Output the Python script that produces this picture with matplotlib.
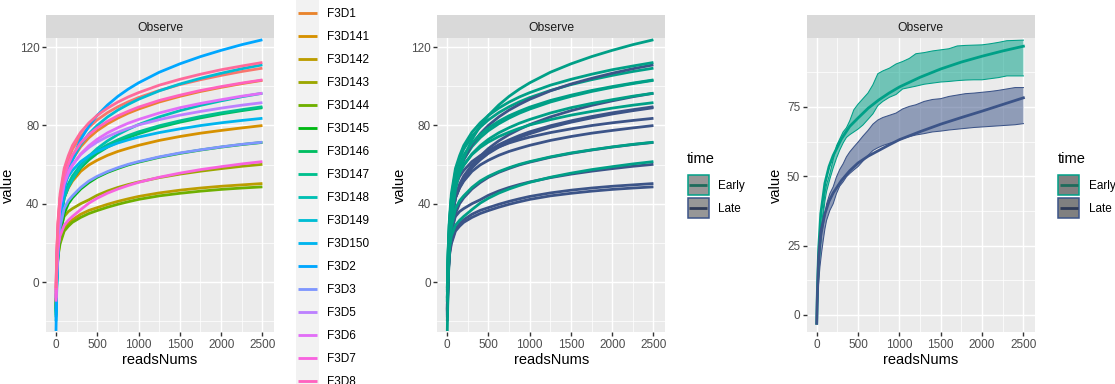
import numpy as np
import matplotlib.pyplot as plt
from matplotlib.patches import Rectangle

plt.rcParams['font.family'] = ['Liberation Sans', 'DejaVu Sans']

# ---- values -----------------------------------------------------------
reads_nums = [1, 10, 25, 50, 100, 150, 200, 300, 400, 500, 625, 750, 875,
              1000, 1250, 1500, 1750, 2000, 2250, 2500]

samples = ["F3D0", "F3D1", "F3D141", "F3D142", "F3D143", "F3D144", "F3D145",
           "F3D146", "F3D147", "F3D148", "F3D149", "F3D150", "F3D2", "F3D3",
           "F3D5", "F3D6", "F3D7", "F3D8", "F3D9"]
sample_time = ["Early", "Early"] + ["Late"] * 10 + ["Early"] * 7

f3d0 = [-5, 13, 29, 43, 56.3, 62.8, 67.8, 74.4, 79.1, 82.8, 86.5, 89.5, 92,
        94.2, 97.8, 100.8, 103.3, 105.5, 107.5, 109.2]
f3d1 = [-10, 8, 24, 39, 51.5, 58, 62.6, 69.1, 73.7, 77.3, 80.8, 83.7, 86.2,
        88.3, 91.9, 94.8, 97.3, 99.4, 101.3, 103]
f3d141 = [-14, 4, 18, 32, 43, 48, 51.5, 56.5, 59.8, 62.2, 64.7, 66.7, 68.3,
          69.8, 72.3, 74.3, 76, 77.4, 78.7, 79.9]
f3d142 = [-13, 4, 14, 20.5, 27, 29.8, 31.8, 34.6, 36.6, 38, 39.7, 41.2, 42.5,
          43.7, 45.5, 46.9, 48, 48.9, 49.6, 50.3]
f3d143 = [-12, 6, 18, 27, 33.5, 36, 37.5, 40, 42, 44.3, 46.5, 48.3, 49.8,
          51.1, 53.3, 55.1, 56.6, 57.9, 59.1, 60.1]
f3d144 = [-14, 3, 13, 19.5, 26, 28.5, 30.5, 33, 35, 36.5, 38.2, 39.7, 41,
          42.2, 44, 45.3, 46.4, 47.3, 48, 48.6]
f3d145 = [-15, 3, 14, 24, 35, 40, 43, 47.5, 50.8, 53.5, 56, 58, 59.8, 61.2,
          63.7, 65.7, 67.4, 68.9, 70.2, 71.3]
f3d146 = [-17, 1, 15, 31, 43, 48.5, 52.4, 58.3, 62.4, 65.7, 68.9, 71.5, 73.8,
          75.7, 79, 81.6, 83.8, 85.8, 87.5, 89]
f3d147 = [-16, 2, 16, 32, 44, 50, 54.1, 59.8, 63.8, 67, 70.1, 72.6, 74.8,
          76.7, 79.8, 82.3, 84.5, 86.4, 88, 89.5]
f3d148 = [-18, 0, 15, 31, 43, 48.5, 52.2, 59.3, 64.3, 68.2, 72.1, 75.3, 78,
          80.4, 84.3, 87.5, 90.2, 92.5, 94.6, 96.4]
f3d149 = [-20, -2, 14, 33, 49, 56.5, 62.4, 70.2, 75.7, 80, 84.3, 87.8, 90.7,
          93.3, 97.6, 101.1, 104, 106.6, 108.9, 110.9]
f3d150 = [-15, 3, 18, 38, 49.5, 54, 57, 61.5, 64.5, 66.7, 69, 71, 72.6, 74,
          76.3, 78.2, 79.9, 81.3, 82.5, 83.6]
f3d2 = [-25, -3, 15, 31, 47, 56, 63.1, 72.8, 79.7, 85.1, 90.4, 94.8, 98.5,
        101.7, 107.1, 111.4, 115.1, 118.3, 121.2, 123.7]
f3d3 = [-8, 4, 17, 28, 37.5, 41.5, 44, 48.3, 51.6, 54, 56.4, 58.4, 60.1, 61.5,
        63.9, 65.9, 67.5, 69, 70.3, 71.4]
f3d5 = [-9, 9, 25, 39, 51, 56.5, 60, 65.1, 68.7, 71.5, 74.3, 76.5, 78.5, 80.2,
        82.9, 85.2, 87.1, 88.8, 90.3, 91.6]
f3d6 = [-8, 10, 26, 38.5, 50, 55.5, 59.5, 65.4, 69.6, 72.9, 76.2, 78.8, 81.1,
        83, 86.3, 89, 91.2, 93.1, 94.9, 96.4]
f3d7 = [-10, 5, 17, 23.5, 29, 31.5, 33.5, 37, 40.3, 42.8, 45.4, 47.5, 49.3,
        50.9, 53.5, 55.6, 57.4, 58.9, 60.3, 61.5]
f3d8 = [-4, 14, 29.5, 42.5, 54, 60, 64.8, 71, 75.3, 78.7, 82.1, 84.9, 87.2,
        89.3, 92.7, 95.4, 97.8, 99.8, 101.6, 103.2]
f3d9 = [-3, 15, 31, 45, 58, 64.5, 69.7, 76.5, 81.3, 85.1, 88.8, 91.9, 94.5,
        96.7, 100.5, 103.5, 106.1, 108.4, 110.3, 112.1]

observe = [f3d0, f3d1, f3d141, f3d142, f3d143, f3d144, f3d145, f3d146,
           f3d147, f3d148, f3d149, f3d150, f3d2, f3d3, f3d5, f3d6, f3d7,
           f3d8, f3d9]

# group means (smoothed) and their ribbons
early_mean = [-3, 10, 24, 36.5, 47.5, 53.5, 57.5, 63.5, 68, 71, 74.6, 77.5,
              80, 82.2, 85.7, 88.7, 91.2, 93.3, 95.2, 96.9]
late_mean = [-3, 8, 21, 30, 36.5, 41, 44, 48.5, 52, 54.8, 57.3, 59.3, 61.3,
             63.2, 66.1, 68.8, 71.2, 73.5, 75.9, 78.3]

ribbon_x = [1, 20, 40, 60, 80, 100, 120, 160, 200, 240, 280, 320, 360, 400,
            450, 500, 560, 620, 680, 740, 800, 880, 960, 1040, 1120, 1200,
            1300, 1400, 1500, 1600, 1700, 1800, 1900, 2000, 2100, 2200, 2300,
            2400, 2500]
early_upper = [-3, 15.7, 26, 32.5, 38, 44, 47, 51, 56, 61, 63.5, 66, 67.5, 70,
               74, 76, 78, 80, 83, 87, 88, 89, 90.5, 91.4, 92.5, 94.2, 94.6,
               95.2, 95.6, 96, 97, 97.2, 97.3, 97.4, 97.8, 98.3, 98.9, 99, 99.1]
early_lower = [-3, 12, 22, 30, 36, 41, 44.5, 49, 53, 56.5, 59.5, 62, 64, 65,
               66, 67, 68.5, 70.5, 72.5, 75.5, 77, 78.5, 79.5, 81.5, 82, 82.5,
               83.2, 83.6, 84, 84.2, 84.5, 84.7, 84.8, 84.8, 85.2, 85.6, 86.2,
               86.2, 86.2]
late_upper = [-3, 16, 24, 28.5, 32, 36, 40, 43.8, 46.2, 49.8, 52.5, 54.5, 57,
              58.8, 60.6, 62.3, 64.5, 66.5, 68.8, 70.3, 71.2, 72, 72.8, 74.3,
              75.2, 75.8, 77, 77.7, 78, 78.8, 79.3, 79.8, 80, 80.3, 80.6, 81,
              81.5, 82, 82]
late_lower = [-3, 10, 17.3, 22.5, 26.9, 31, 34.1, 37.7, 40.1, 43.8, 46.5, 48,
              49.8, 51, 52.3, 53.5, 55.5, 57.5, 59.3, 60.3, 61.1, 61.9, 62.6,
              63.6, 64.3, 64.9, 65.4, 66, 66.3, 66.7, 67, 67.3, 67.6, 67.8, 68,
              68.2, 68.4, 68.6, 69]

time_levels = ["Early", "Late"]
time_colors = {"Early": "#00A087", "Late": "#3C5488"}


def hcl_hex(h, c=100.0, l=65.0):
    """ggplot2 style hue colour (polar CIE-Luv) as hex."""
    u_ = c * np.cos(np.radians(h))
    v_ = c * np.sin(np.radians(h))
    xn, yn, zn = 0.95047, 1.0, 1.08883
    den = xn + 15 * yn + 3 * zn
    un, vn = 4 * xn / den, 9 * yn / den
    y = yn * ((l + 16) / 116) ** 3
    u = u_ / (13 * l) + un
    v = v_ / (13 * l) + vn
    x = 9 * y * u / (4 * v)
    z = 3 * y / v - x / 3 - 5 * y
    rgb = np.array([3.2404542 * x - 1.5371385 * y - 0.4985314 * z,
                    -0.9692660 * x + 1.8760108 * y + 0.0415560 * z,
                    0.0556434 * x - 0.2040259 * y + 1.0572252 * z])
    rgb = np.where(rgb <= 0.0031308, 12.92 * rgb,
                   1.055 * np.clip(rgb, 0, None) ** (1 / 2.4) - 0.055)
    rgb = np.clip(rgb, 0, 1)
    return "#%02X%02X%02X" % tuple(int(round(ch * 255)) for ch in rgb)


sample_colors = [hcl_hex(h) for h in np.linspace(15, 375, len(samples) + 1)[:-1]]

# ---- layout (pixels) ---------------------------------------------------
W, H = 1115, 384
fig = plt.figure(figsize=(W / 100, H / 100), dpi=100)


def px_axes(x0, y0, x1, y1):
    return fig.add_axes([x0 / W, 1 - y1 / H, (x1 - x0) / W, (y1 - y0) / H])


def style_panel(ax, ylim, yticks, yminor):
    ax.set_facecolor("#EBEBEB")
    ax.set_xlim(-120, 2640)
    ax.set_ylim(*ylim)
    ax.set_xticks([0, 500, 1000, 1500, 2000, 2500])
    ax.set_xticks([250, 750, 1250, 1750, 2250], minor=True)
    ax.set_yticks(yticks)
    ax.set_yticks(yminor, minor=True)
    ax.grid(True, which="major", color="white", linewidth=1.02)
    ax.grid(True, which="minor", color="white", linewidth=0.51)
    ax.set_axisbelow(True)
    for s in ax.spines.values():
        s.set_visible(False)
    ax.tick_params(which="major", length=2.64, width=1.0, color="#333333",
                   labelsize=8.45, labelcolor="#4D4D4D", pad=2.1)
    ax.tick_params(which="minor", length=0)


def add_strip(x0, x1):
    s = px_axes(x0, 15, x1, 38)
    s.set_facecolor("#D9D9D9")
    s.set_xticks([])
    s.set_yticks([])
    for sp in s.spines.values():
        sp.set_visible(False)
    s.text(0.5, 0.31, "Observe", transform=s.transAxes, ha="center",
           va="baseline", fontsize=8.7, color="#1A1A1A")


panels = [(46, 274), (437.3, 665), (806.7, 1035)]

# panel 1: every sample coloured on its own
ax1 = px_axes(panels[0][0], 38, panels[0][1], 332)
style_panel(ax1, (-25.5, 124.6), [0, 40, 80, 120], [-20, 20, 60, 100])
for vals, col in zip(observe, sample_colors):
    ax1.plot(reads_nums, vals, color=col, lw=2.0, solid_capstyle="butt")

# panel 2: same curves coloured by time
ax2 = px_axes(panels[1][0], 38, panels[1][1], 332)
style_panel(ax2, (-25.5, 124.6), [0, 40, 80, 120], [-20, 20, 60, 100])
for vals, t in zip(observe, sample_time):
    ax2.plot(reads_nums, vals, color=time_colors[t], lw=2.0,
             solid_capstyle="butt")

# panel 3: group mean with ribbon
ax3 = px_axes(panels[2][0], 38, panels[2][1], 332)
style_panel(ax3, (-6.13, 99.87), [0, 25, 50, 75], [12.5, 37.5, 62.5, 87.5])
ribbons = {"Early": (early_lower, early_upper), "Late": (late_lower, late_upper)}
for t in time_levels:
    lo, up = ribbons[t]
    ax3.fill_between(ribbon_x, lo, up, facecolor=time_colors[t], alpha=0.52,
                     linewidth=0)
    ax3.plot(ribbon_x, lo, color=time_colors[t], lw=0.75)
    ax3.plot(ribbon_x, up, color=time_colors[t], lw=0.75)
for t, vals in zip(time_levels, [early_mean, late_mean]):
    ax3.plot(reads_nums, vals, color=time_colors[t], lw=2.0)

for x0, x1 in panels:
    add_strip(x0, x1)

# ---- titles and legends in pixel space ---------------------------------
ov = fig.add_axes([0, 0, 1, 1])
ov.set_xlim(0, W)
ov.set_ylim(H, 0)
ov.axis("off")

for (x0, x1), ylab_x in zip(panels, [8.2, 399.5, 775.8]):
    ov.text((x0 + x1) / 2, 364.5, "readsNums", ha="center", va="baseline",
            fontsize=10.5, color="black")
    ov.text(ylab_x, 185, "value", rotation=90, ha="center", va="center",
            fontsize=10.5, color="black")

# legend of samples: taller than the figure, so its ends run off the edges
row_h = 23
leg_top = 13 - 1.5 * row_h
ov.add_patch(Rectangle((296, leg_top), 23, row_h * len(samples),
                       facecolor="#F2F2F2", edgecolor="none"))
for i, (name, col) in enumerate(zip(samples, sample_colors)):
    yc = leg_top + (i + 0.5) * row_h
    if yc < 0 or yc > H:
        continue  # these rows fall outside the picture
    ov.plot([298.3, 316.7], [yc, yc], color=col, lw=2.05, solid_capstyle="butt")
    ov.text(326.7, yc + 4.3, name, ha="left", va="baseline", fontsize=8.45,
            color="black")


def time_legend(x_left, key_fill):
    ov.text(x_left, 163.3, "time", ha="left", va="baseline", fontsize=10.5,
            color="black")
    line_cols = {"Early": "#1E6B5B", "Late": "#2F3A57"}
    for i, t in enumerate(time_levels):
        y0 = 174.5 + i * 23
        ov.add_patch(Rectangle((x_left + 0.8, y0), 21.2, 20.5,
                               facecolor=key_fill, edgecolor=time_colors[t],
                               lw=1.1))
        ov.plot([x_left + 2.5, x_left + 20.5], [y0 + 10.25, y0 + 10.25],
                color=line_cols[t], lw=2.0, solid_capstyle="butt")
        ov.text(x_left + 31.6, y0 + 14.5, t, ha="left", va="baseline",
                fontsize=8.45, color="black")


time_legend(686.7, "#979797")
time_legend(1057.3, "#808080")

fig.savefig("out.png", dpi=100)
